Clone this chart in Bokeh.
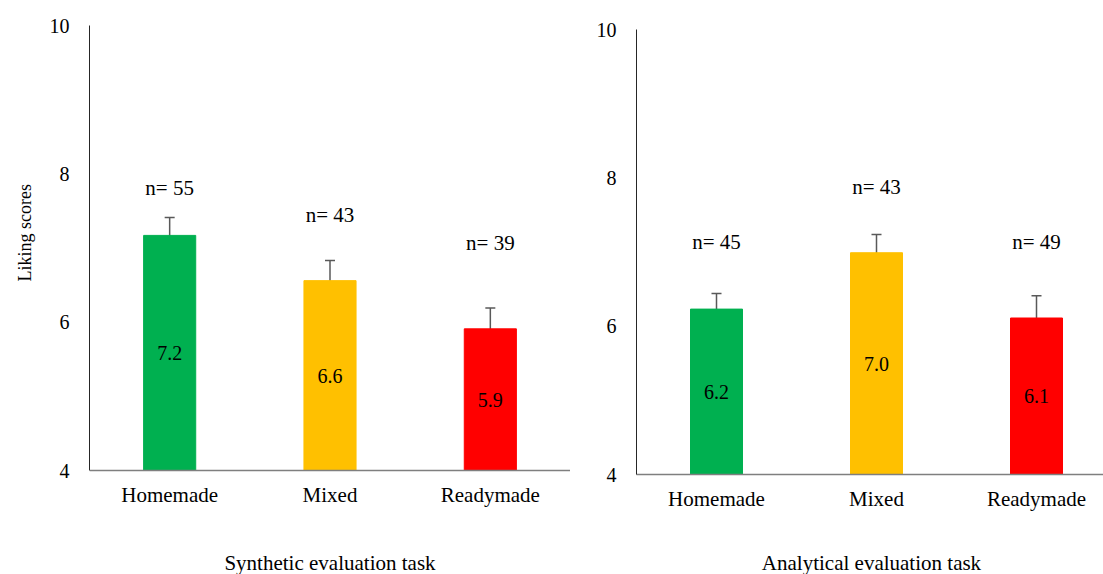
from bokeh.plotting import figure
from bokeh.layouts import row
from bokeh.models import (ColumnDataSource, Whisker, FixedTicker, Range1d, LinearAxis, Span, Title)
from bokeh.embed import file_html
from bokeh.resources import INLINE

categories = ["Homemade", "Mixed", "Readymade"]
colors = ["#00B050", "#FFC000", "#FF0000"]

synthetic_means = [7.17, 6.56, 5.91]
synthetic_err = [0.24, 0.27, 0.28]
synthetic_n = [55, 43, 39]
synthetic_n_label_y = [7.81, 7.44, 7.07]

analytical_means = [6.23, 6.99, 6.11]
analytical_err = [0.21, 0.245, 0.30]
analytical_n = [45, 43, 49]
analytical_n_label_y = [7.13, 7.87, 7.13]

y_ticks = [4, 6, 8, 10]
Y_MIN, Y_MAX = 4, 10
FONT = "Liberation Serif"
TOTAL_H = 574
FRAME_TOP = 25
FRAME_H = 449
PX_PER_Y = 445 / 6.0
SHIFT = 4 / PX_PER_Y   # the two panels sit 4 px apart vertically


def bare_axis(label, standoff, size):
    return LinearAxis(ticker=FixedTicker(ticks=[]),
                      axis_line_color=None, major_tick_line_color=None, minor_tick_line_color=None,
                      major_label_standoff=0, major_tick_out=0, major_tick_in=0,
                      axis_label=label, axis_label_standoff=standoff,
                      axis_label_text_font=FONT, axis_label_text_font_size=size,
                      axis_label_text_font_style="normal", axis_label_text_color="#000000")


def make_panel(means, errs, ns, n_y, title, title_standoff, border_left,
               frame_w, x_end, y_range, span_axis, label_standoff):
    p = figure(frame_width=frame_w, frame_height=FRAME_H, output_backend="svg", toolbar_location=None,
               x_range=Range1d(0, x_end), y_range=y_range,
               min_border_left=border_left, min_border_right=0,
               min_border_top=FRAME_TOP, min_border_bottom=TOTAL_H - FRAME_TOP - FRAME_H,
               outline_line_color=None)
    xs = [i + 0.5 for i in range(len(categories))]
    src = ColumnDataSource(dict(
        x=xs, top=means, color=colors,
        upper=[m + e for m, e in zip(means, errs)],
        lower=[m - e for m, e in zip(means, errs)],
        mid=[(Y_MIN + m) / 2 for m in means],
        vlab=[f"{m:.1f}" for m in means],
        ny=n_y, nlab=[f"n= {n}" for n in ns],
    ))
    p.vbar(x="x", top="top", bottom=Y_MIN, width=0.325, color="color", source=src)
    w = Whisker(base="x", upper="upper", lower="lower", source=src,
                line_color="#595959", line_width=1.5)
    for h in (w.upper_head, w.lower_head):
        h.size = 10
        h.line_color = "#595959"
        h.line_width = 1.5
    p.add_layout(w)
    p.text(x="x", y="mid", text="vlab", source=src, text_align="center",
           text_baseline="middle", text_font=FONT, text_font_size="20px", text_color="#000000")
    p.text(x="x", y="ny", text="nlab", source=src, text_align="center",
           text_baseline="middle", text_font=FONT, text_font_size="21px", text_color="#000000")

    p.grid.visible = False
    p.xaxis.ticker = FixedTicker(ticks=xs)
    p.xaxis.major_label_overrides = {x: c for x, c in zip(xs, categories)}
    p.yaxis.ticker = FixedTicker(ticks=y_ticks)
    p.yaxis.bounds = (Y_MIN, Y_MAX)
    for ax in (p.xaxis, p.yaxis):
        ax.major_tick_line_color = None
        ax.minor_tick_line_color = None
        ax.major_label_text_font = FONT
        ax.major_label_text_color = "#000000"
    if span_axis:
        # baseline drawn at y = 4, which lies 4 px above the frame bottom in this panel
        p.xaxis.axis_line_color = None
        p.add_layout(Span(location=Y_MIN, dimension="width", line_color="#7f7f7f", line_width=1.5))
    else:
        p.xaxis.axis_line_color = "#7f7f7f"
        p.xaxis.axis_line_width = 1.5
    p.yaxis.axis_line_color = "#262626"
    p.yaxis.axis_line_width = 1
    p.xaxis.major_label_text_font_size = "21px"
    p.yaxis.major_label_text_font_size = "20px"
    p.xaxis.major_label_standoff = label_standoff
    p.yaxis.major_label_standoff = 14

    p.add_layout(bare_axis(title, title_standoff, "21px"), "below")
    return p


left = make_panel(synthetic_means, synthetic_err, synthetic_n, synthetic_n_label_y,
                  "Synthetic evaluation task", 41, 86, 481, 3.0,
                  Range1d(Y_MIN - SHIFT, Y_MAX), True, 2)
left.add_layout(Title(text="Liking scores", align="left", offset=193, standoff=24,
                      text_font=FONT, text_font_size="18px", text_font_style="normal",
                      text_color="#000000"), "left")
right = make_panel(analytical_means, analytical_err, analytical_n, analytical_n_label_y,
                   "Analytical evaluation task", 37, 66, 470, 470 / 160,
                   Range1d(Y_MIN, Y_MAX + SHIFT), False, 6)

layout = row(left, right, spacing=0)
open("out.html", "w").write(file_html(layout, INLINE))
